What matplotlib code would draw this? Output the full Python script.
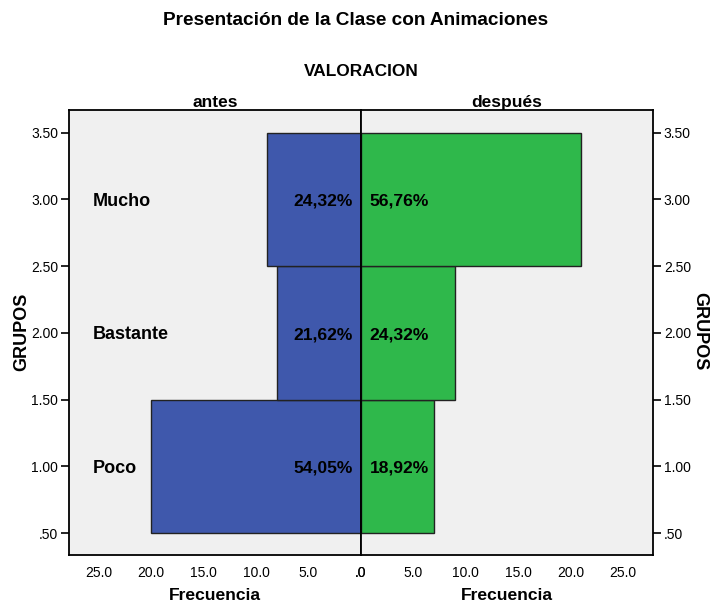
import matplotlib
matplotlib.use("Agg")
import matplotlib.pyplot as plt

plt.rcParams["font.family"] = ["Liberation Sans", "DejaVu Sans"]

# data
grupos = ["Poco", "Bastante", "Mucho"]
posiciones = [1.0, 2.0, 3.0]
frec_antes = [20, 8, 9]
frec_despues = [7, 9, 21]
pct_antes = ["54,05%", "21,62%", "24,32%"]
pct_despues = ["18,92%", "24,32%", "56,76%"]
y_ticks = [0.5, 1.0, 1.5, 2.0, 2.5, 3.0, 3.5]
y_labels = [".50", "1.00", "1.50", "2.00", "2.50", "3.00", "3.50"]
x_ticks = [0, 5, 10, 15, 20, 25]
x_labels = [".0", "5.0", "10.0", "15.0", "20.0", "25.0"]

BLUE = "#3f58ac"
GREEN = "#2fb84b"
BG = "#f0f0f0"
XMAX = 27.8
YLIM = (0.337, 3.67)

fig = plt.figure(figsize=(7.12, 6.08), dpi=100)
ax_l = fig.add_axes([0.0973, 0.0872, 0.4097, 0.732])
ax_r = fig.add_axes([0.507, 0.0872, 0.4097, 0.732])

for ax, vals, color in ((ax_l, frec_antes, BLUE), (ax_r, frec_despues, GREEN)):
    ax.set_facecolor(BG)
    ax.barh(posiciones, vals, height=1.0, color=color, edgecolor="#222222",
            linewidth=1.0, zorder=2)
    ax.set_ylim(*YLIM)
    ax.set_xticks(x_ticks)
    ax.set_xticklabels(x_labels)
    ax.set_yticks(y_ticks)
    ax.set_yticklabels(y_labels)
    ax.tick_params(axis="x", length=0, pad=8, labelsize=10)
    ax.tick_params(axis="y", length=6, width=1.2, direction="out", labelsize=10,
                   pad=2)
    for sp in ax.spines.values():
        sp.set_linewidth(1.3)
        sp.set_zorder(3)
    ax.set_xlabel("Frecuencia", fontsize=12.6, fontweight="bold", labelpad=6)

ax_l.set_xlim(XMAX, 0)
ax_r.set_xlim(0, XMAX)
ax_r.yaxis.tick_right()

ax_l.set_title("antes", fontsize=12.5, fontweight="bold", pad=2)
ax_r.set_title("después", fontsize=12.5, fontweight="bold", pad=2)

for y, g, pa, pd in zip(posiciones, grupos, pct_antes, pct_despues):
    yt = y - 0.015
    ax_l.text(25.6, yt, g, ha="left", va="center", fontsize=13,
              fontweight="bold", zorder=4)
    ax_l.text(0.75, yt, pa, ha="right", va="center", fontsize=12.6,
              fontweight="bold", zorder=4)
    ax_r.text(0.8, yt, pd, ha="left", va="center", fontsize=12.6,
              fontweight="bold", zorder=4)

fig.text(0.5, 0.966, "Presentación de la Clase con Animaciones",
         ha="center", va="center", fontsize=13.7, fontweight="bold")
fig.text(0.507, 0.883, "VALORACION", ha="center", va="center",
         fontsize=12.4, fontweight="bold")
fig.text(0.031, 0.455, "GRUPOS", ha="center", va="center", rotation=90,
         fontsize=13, fontweight="bold")
fig.text(0.983, 0.455, "GRUPOS", ha="center", va="center", rotation=-90,
         fontsize=13, fontweight="bold")

fig.savefig("out.png", dpi=100, facecolor="white")
